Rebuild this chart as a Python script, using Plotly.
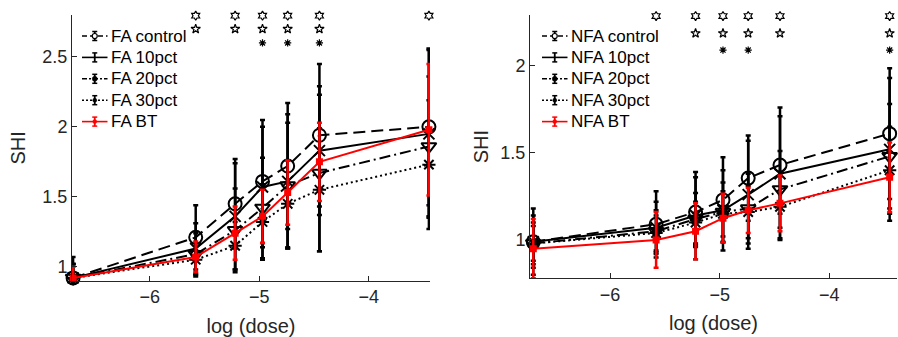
import plotly.graph_objects as go

# ---------------- data ----------------
log_dose = [-6.70, -5.58, -5.22, -4.97, -4.74, -4.45, -3.45]

fa_control = [0.92, 1.21, 1.45, 1.61, 1.72, 1.94, 2.00]
fa_10pct = [0.92, 1.13, 1.36, 1.57, 1.61, 1.83, 1.95]
fa_20pct = [0.92, 1.09, 1.26, 1.42, 1.58, 1.67, 1.86]
fa_30pct = [0.92, 1.05, 1.15, 1.32, 1.45, 1.55, 1.73]
fa_bt = [0.92, 1.07, 1.24, 1.36, 1.53, 1.75, 1.98]

fa_control_err = [0.15, 0.23, 0.32, 0.44, 0.45, 0.51, 0.56]
fa_10pct_err = [0.10, 0.18, 0.38, 0.43, 0.48, 0.46, 0.60]
fa_20pct_err = [0.10, 0.15, 0.30, 0.36, 0.45, 0.56, 0.50]
fa_30pct_err = [0.10, 0.12, 0.17, 0.27, 0.31, 0.44, 0.46]
fa_bt_err = [0.08, 0.11, 0.19, 0.19, 0.23, 0.28, 0.47]

nfa_control = [0.99, 1.09, 1.16, 1.23, 1.355, 1.43, 1.61]
nfa_10pct = [0.99, 1.07, 1.14, 1.17, 1.26, 1.38, 1.52]
nfa_20pct = [0.98, 1.05, 1.12, 1.16, 1.18, 1.29, 1.48]
nfa_30pct = [0.98, 1.04, 1.10, 1.15, 1.16, 1.19, 1.40]
nfa_bt = [0.95, 1.00, 1.05, 1.125, 1.17, 1.21, 1.36]

nfa_control_err = [0.19, 0.19, 0.20, 0.245, 0.245, 0.28, 0.375]
nfa_10pct_err = [0.15, 0.15, 0.25, 0.23, 0.31, 0.38, 0.41]
nfa_20pct_err = [0.12, 0.12, 0.15, 0.17, 0.20, 0.22, 0.30]
nfa_30pct_err = [0.10, 0.10, 0.12, 0.13, 0.15, 0.18, 0.25]
nfa_bt_err = [0.17, 0.16, 0.16, 0.14, 0.13, 0.16, 0.20]

# significance marker rows (x positions), three symbol rows per panel
fa_sig1_x = [-5.58, -5.22, -4.97, -4.74, -4.45, -3.45]
fa_sig2_x = [-5.58, -5.22, -4.97, -4.74, -4.45]
fa_sig3_x = [-4.97, -4.74, -4.45]
fa_sig_y = [2.795, 2.70, 2.60]

nfa_sig1_x = [-5.58, -5.22, -4.97, -4.74, -4.45, -3.45]
nfa_sig2_x = [-5.22, -4.97, -4.74, -4.45, -3.45]
nfa_sig3_x = [-4.97, -4.74, -3.45]
nfa_sig_y = [2.285, 2.186, 2.09]

series_names = ["control", "10pct", "20pct", "30pct", "BT"]
x_tickvals = [-6, -5, -4]
x_ticktext = ["\u22126", "\u22125", "\u22124"]
fa_y_tickvals = [1, 1.5, 2, 2.5]
fa_y_ticktext = ["1", "1.5", "2", "2.5"]
nfa_y_tickvals = [1, 1.5, 2]
nfa_y_ticktext = ["1", "1.5", "2"]

# ---------------- styles ----------------
FONT = "Liberation Sans, Arial, Helvetica, sans-serif"
AX = "#262626"
styles = [
    dict(dash="12px,6px", color="black", symbol="circle-open", size=13, lw=2),
    dict(dash="solid", color="black", symbol="x-thin-open", size=11, lw=2),
    dict(dash="11px,4px,2px,4px", color="black", symbol="triangle-down-open", size=13, lw=2),
    dict(dash="2px,3px", color="black", symbol="asterisk-open", size=11, lw=2),
    dict(dash="solid", color="red", symbol="square", size=5, lw=2),
]
legend_dash = ["5px,3px", "solid", "5px,2px,2px,2px", "2px,2px", "solid"]

W, H = 898, 337
def px_x(p):
    return p / W
def px_y(p):
    return 1 - p / H

fig = go.Figure()
shapes = []
annotations = []

panels = [
    ("x", "y", "FA", 0.9,
     [fa_control, fa_10pct, fa_20pct, fa_30pct, fa_bt],
     [fa_control_err, fa_10pct_err, fa_20pct_err, fa_30pct_err, fa_bt_err],
     [fa_sig1_x, fa_sig2_x, fa_sig3_x], fa_sig_y, 82, 107.5),
    ("x2", "y2", "NFA", 0.78,
     [nfa_control, nfa_10pct, nfa_20pct, nfa_30pct, nfa_bt],
     [nfa_control_err, nfa_10pct_err, nfa_20pct_err, nfa_30pct_err, nfa_bt_err],
     [nfa_sig1_x, nfa_sig2_x, nfa_sig3_x], nfa_sig_y, 542, 567.5),
]

for xa, ya, prefix, ymin, series, errs, sigx, sigy, lx0, lx1 in panels:
    for s, e, st in zip(series, errs, styles):
        e_minus = [min(ev, yv - ymin) for yv, ev in zip(s, e)]
        fig.add_trace(go.Scatter(
            x=log_dose, y=s, xaxis=xa, yaxis=ya, mode="lines+markers",
            line=dict(color=st["color"], width=st["lw"], dash=st["dash"]),
            marker=dict(symbol=st["symbol"], size=st["size"], color=st["color"],
                        line=dict(width=2, color=st["color"])),
            error_y=dict(type="data", symmetric=False, array=e, arrayminus=e_minus,
                         visible=True, color=st["color"], thickness=2.5, width=2.5),
            cliponaxis=False, showlegend=False, hoverinfo="skip"))
    # significance symbols
    for xs, yv, sym, sz in zip(sigx, sigy, ["hexagram-open", "star-open", "asterisk-open"], [7, 7, 6]):
        fig.add_trace(go.Scatter(
            x=xs, y=[yv] * len(xs), xaxis=xa, yaxis=ya, mode="markers",
            marker=dict(symbol=sym, size=sz, color="black", line=dict(width=1.2, color="black")),
            showlegend=False, cliponaxis=False, hoverinfo="skip"))
    # legend (drawn as paper shapes + text)
    lc = (lx0 + lx1) / 2
    for i, (name, st, ld) in enumerate(zip(series_names, styles, legend_dash)):
        ry = 36 + 21.4 * i
        col = st["color"]
        shapes.append(dict(type="line", xref="paper", yref="paper", x0=px_x(lx0), x1=px_x(lx1),
                           y0=px_y(ry), y1=px_y(ry), line=dict(color=col, width=1.6, dash=ld)))
        shapes.append(dict(type="line", xref="paper", yref="paper", x0=px_x(lc), x1=px_x(lc),
                           y0=px_y(ry - 4.5), y1=px_y(ry + 4.5), line=dict(color=col, width=1.8)))
        for cy in (ry - 4.5, ry + 4.5):
            shapes.append(dict(type="line", xref="paper", yref="paper", x0=px_x(lc - 2.5), x1=px_x(lc + 2.5),
                               y0=px_y(cy), y1=px_y(cy), line=dict(color=col, width=1.5)))
        if i == 0:
            shapes.append(dict(type="circle", xref="paper", yref="paper", x0=px_x(lc - 2.5), x1=px_x(lc + 2.5),
                               y0=px_y(ry + 2.5), y1=px_y(ry - 2.5), line=dict(color=col, width=1.2),
                               fillcolor="white"))
        elif i == 1:
            pass
        else:
            r = 2.5 if i == 2 else 2
            shapes.append(dict(type="circle", xref="paper", yref="paper", x0=px_x(lc - r), x1=px_x(lc + r),
                               y0=px_y(ry + r), y1=px_y(ry - r), line=dict(color=col, width=0.5),
                               fillcolor=col))
        annotations.append(dict(text=f"{prefix} {name}", xref="paper", yref="paper",
                                x=px_x(lx1 + 1.5), y=px_y(ry), xanchor="left", yanchor="middle",
                                showarrow=False, font=dict(family=FONT, size=17, color="black")))

axis_common = dict(showline=True, linecolor=AX, linewidth=1, ticks="inside", ticklen=5,
                   tickcolor=AX, tickwidth=1, showgrid=False, zeroline=False,
                   tickfont=dict(family=FONT, size=18, color=AX), automargin=False)
title_font = dict(family=FONT, size=20, color=AX)

fig.update_layout(
    width=W, height=H, margin=dict(l=0, r=0, t=0, b=0),
    paper_bgcolor="white", plot_bgcolor="white", showlegend=False,
    xaxis=dict(axis_common, domain=[px_x(72), px_x(430)], range=[-6.71, -3.44],
               tickvals=x_tickvals, ticktext=x_ticktext, anchor="y",
               title=dict(text="log (dose)", font=title_font, standoff=12)),
    yaxis=dict(axis_common, domain=[px_y(280.7), px_y(15)], range=[0.9, 2.8],
               tickvals=fa_y_tickvals, ticktext=fa_y_ticktext, anchor="x",
               title=dict(text="SHI", font=title_font, standoff=11)),
    xaxis2=dict(axis_common, domain=[px_x(530), px_x(897)], range=[-6.73, -3.383],
                tickvals=x_tickvals, ticktext=x_ticktext, anchor="y2",
                title=dict(text="log (dose)", font=title_font, standoff=12)),
    yaxis2=dict(axis_common, domain=[px_y(278.3), px_y(15)], range=[0.78, 2.291],
                tickvals=nfa_y_tickvals, ticktext=nfa_y_ticktext, anchor="x2",
                title=dict(text="SHI", font=title_font, standoff=6)),
    shapes=shapes, annotations=annotations,
)

fig.write_html("out.html", config={"displayModeBar": False},
               post_script="document.body.style.margin='0';document.body.style.padding='0';")
